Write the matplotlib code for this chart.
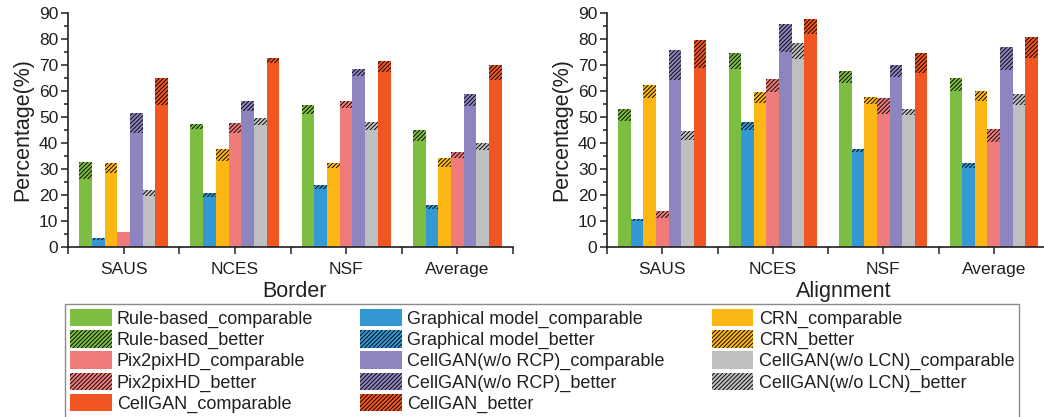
import matplotlib
matplotlib.use('Agg')
import matplotlib.pyplot as plt
from matplotlib.patches import Patch
from matplotlib.ticker import MultipleLocator, FixedLocator

# ---------------- data ----------------
datasets = ["SAUS", "NCES", "NSF", "Average"]
methods = ["Rule-based", "Graphical model", "CRN", "Pix2pixHD",
           "CellGAN(w/o RCP)", "CellGAN(w/o LCN)", "CellGAN"]
colors = ["#7dbd41", "#3498d5", "#fdb714", "#f07b7b",
          "#8c85bf", "#bebfc1", "#f15522"]

# rows = methods, cols = datasets
border_comparable = [
    [26.1, 45.5, 51.0, 40.9],
    [2.6, 19.0, 22.1, 14.5],
    [28.5, 33.0, 30.5, 30.6],
    [5.8, 44.0, 53.6, 34.3],
    [44.0, 52.4, 66.0, 54.2],
    [19.7, 47.0, 45.0, 37.1],
    [54.5, 71.0, 67.4, 64.3],
]
border_better = [
    [6.4, 1.7, 3.6, 4.0],
    [0.6, 1.8, 1.7, 1.4],
    [3.6, 4.7, 1.8, 3.5],
    [0.0, 3.7, 2.6, 2.2],
    [7.7, 3.8, 2.6, 4.5],
    [2.2, 2.6, 3.1, 2.7],
    [10.7, 1.8, 4.2, 5.6],
]
align_comparable = [
    [48.6, 68.5, 63.1, 60.2],
    [9.9, 45.1, 36.6, 30.5],
    [57.5, 55.5, 55.0, 56.0],
    [10.9, 59.6, 51.0, 40.4],
    [64.1, 75.1, 65.4, 68.3],
    [41.0, 72.4, 50.9, 54.8],
    [69.0, 82.0, 67.1, 72.8],
]
align_better = [
    [4.5, 6.2, 4.6, 5.0],
    [0.8, 3.1, 1.1, 1.8],
    [4.7, 4.1, 2.7, 3.9],
    [2.9, 5.1, 6.2, 4.8],
    [11.6, 10.6, 4.8, 8.8],
    [3.6, 6.3, 2.2, 4.1],
    [10.7, 5.7, 7.6, 7.9],
]

TEXT = "#231f20"
HATCH = "////////"

plt.rcParams["font.family"] = ["Liberation Sans", "DejaVu Sans"]
plt.rcParams["hatch.color"] = "black"
plt.rcParams["hatch.linewidth"] = 0.65


def draw_panel(ax, comparable, better, title, label_x):
    n = len(methods)
    w = 0.8 / n
    for j in range(n):
        xs = [i + 0.5 + (j - (n - 1) / 2) * w for i in range(len(datasets))]
        ax.bar(xs, comparable[j], width=w, color=colors[j], linewidth=0)
        ax.bar(xs, better[j], width=w, bottom=comparable[j],
               color=colors[j], hatch=HATCH, linewidth=0)

    ax.set_xlim(0, len(datasets))
    ax.set_ylim(0, 90)
    ax.yaxis.set_major_locator(MultipleLocator(10))
    ax.yaxis.set_minor_locator(MultipleLocator(5))
    ax.set_xticks([i + 0.5 for i in range(len(datasets))])
    ax.set_xticklabels(datasets)
    ax.xaxis.set_minor_locator(FixedLocator(range(len(datasets) + 1)))

    for s in ["top", "right"]:
        ax.spines[s].set_visible(False)
    for s in ["left", "bottom"]:
        ax.spines[s].set_linewidth(1.2)
        ax.spines[s].set_color(TEXT)

    ax.tick_params(axis="both", which="both", direction="out",
                   color=TEXT, width=1.1, labelcolor=TEXT, labelsize=12.5)
    ax.tick_params(axis="y", which="major", length=5, pad=2)
    ax.tick_params(axis="y", which="minor", length=3)
    ax.tick_params(axis="x", which="both", length=5, pad=6)

    ax.set_ylabel("Percentage(%)", fontsize=15.5, color=TEXT, labelpad=4)
    ax.set_xlabel(title, fontsize=15.5, color=TEXT)
    ax.xaxis.set_label_coords(label_x, -0.145)


fig = plt.figure(figsize=(10.44, 4.17), dpi=100)
ax1 = fig.add_axes([68 / 1044, 1 - 246.7 / 417, 445 / 1044, 233.4 / 417])
ax2 = fig.add_axes([607 / 1044, 1 - 246.7 / 417, 442 / 1044, 233.4 / 417])

draw_panel(ax1, border_comparable, border_better, "Border", (294 - 68) / 445)
draw_panel(ax2, align_comparable, align_better, "Alignment", (844 - 607) / 442)

# legend entries, laid out column by column like the original figure
entries = []
for j in range(len(methods)):
    entries.append((Patch(facecolor=colors[j], linewidth=0), methods[j] + "_comparable"))
    entries.append((Patch(facecolor=colors[j], hatch=HATCH, linewidth=0), methods[j] + "_better"))
col1 = [entries[0], entries[1], entries[6], entries[7], entries[12]]
col2 = [entries[2], entries[3], entries[8], entries[9], entries[13]]
col3 = [entries[4], entries[5], entries[10], entries[11]]
leg_items = col1 + col2 + col3

leg = fig.legend([h for h, _ in leg_items], [t for _, t in leg_items],
                 loc="upper left", bbox_to_anchor=(65 / 1044, 1 - 304 / 417),
                 ncol=3, fontsize=13, frameon=True, fancybox=False,
                 handlelength=2.3, handleheight=1.1, handletextpad=0.3,
                 labelspacing=0.12, columnspacing=2.6, borderpad=0.28,
                 borderaxespad=0)
leg.get_frame().set_edgecolor("#707070")
leg.get_frame().set_linewidth(1.0)
for t in leg.get_texts():
    t.set_color(TEXT)

plt.savefig("out.png", dpi=100)
plt.close()
